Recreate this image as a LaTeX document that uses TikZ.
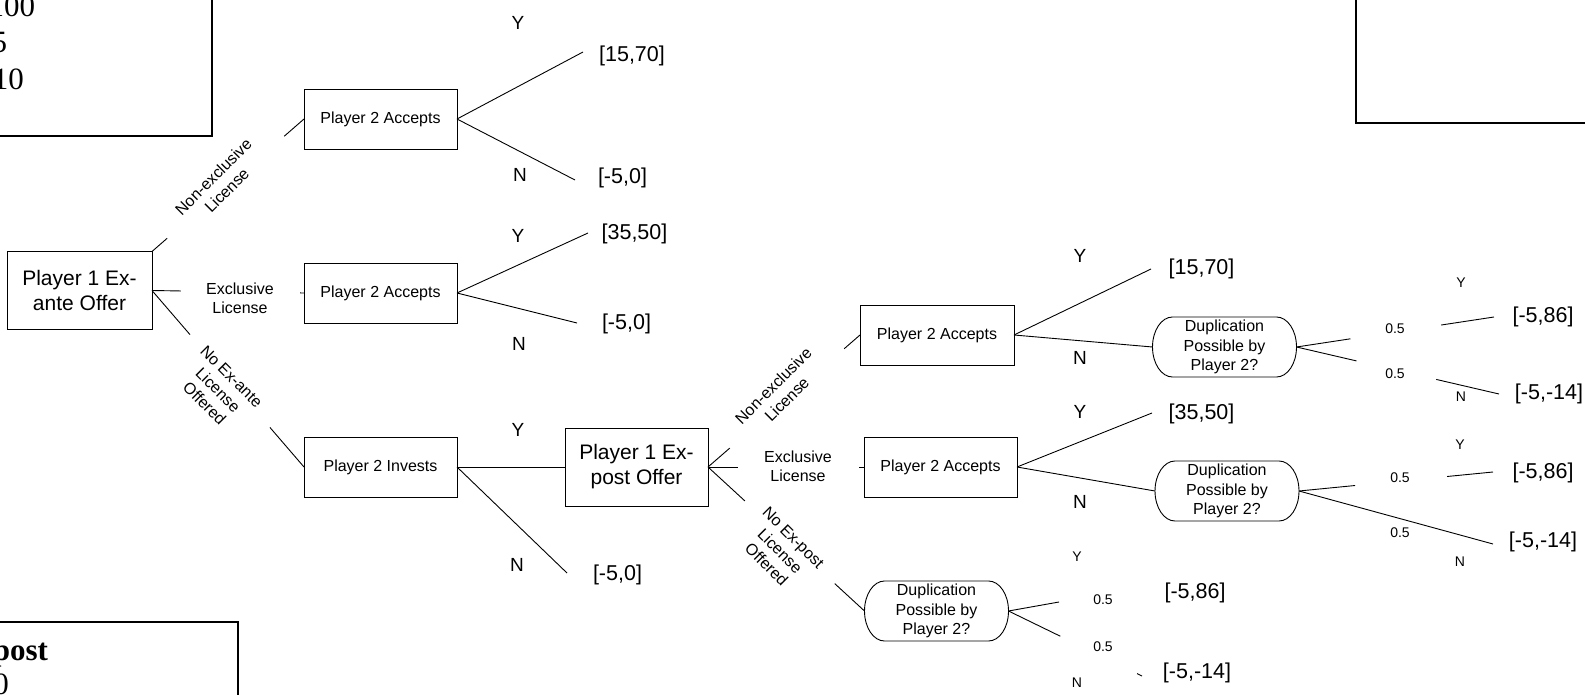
\documentclass[tikz,border=0pt]{standalone}
\usepackage{fontspec}
\setmainfont{Liberation Sans}
\newfontfamily\serifface{Liberation Serif}
\usetikzlibrary{calc}
% outline of a chance node: straight top and bottom, elliptic ends
\newcommand\dupoutline[1]{%
  \draw[line] ($(#1.north west)+(20,0)$) -- ($(#1.north east)+(-20,0)$)
    arc[start angle=90,end angle=-90,x radius=20pt,y radius=30pt]
    -- ($(#1.south west)+(20,0)$)
    arc[start angle=270,end angle=90,x radius=20pt,y radius=30pt] -- cycle;}
\begin{document}
\begin{tikzpicture}[x=1pt,y=-1pt,
  every node/.style={inner sep=0pt, outer sep=0pt},
  line/.style={line width=0.9pt},
  box/.style={draw, line width=0.9pt, minimum width=153pt, minimum height=60pt, font=\fontsize{16}{19.5}\selectfont},
  bigbox/.style={draw, line width=0.9pt, minimum width=145pt, minimum height=78pt, align=center, font=\fontsize{21}{25}\selectfont},
  dupbox/.style={minimum width=144pt, minimum height=60pt, align=center, font=\fontsize{16}{19.5}\selectfont},
  lbl/.style={align=center, font=\fontsize{16}{19}\selectfont},
  yn/.style={font=\fontsize{19}{22}\selectfont},
  sm/.style={font=\fontsize{14}{16}\selectfont},
  pay/.style={font=\fontsize{21.5}{25}\selectfont},
  frame/.style={draw, line width=1.8pt},
  note/.style={font=\serifface\fontsize{31}{34}\selectfont}]

\useasboundingbox (0,0) rectangle (1585,695);
\fill[white] (0,0) rectangle (1585,695);
\clip (0,0) rectangle (1585,695);

% parameter frames at the page corners
\draw[frame] (-10,-10) rectangle (212,136);
\node[note, anchor=base east] (nA) at (35,17) {100};
\node[note, anchor=base east] (nB) at (7,53) {5};
\node[note, anchor=base east] (nC) at (24,90) {10};
\draw[frame] (1356,-10) rectangle (1600,123);
\draw[frame] (-10,622) rectangle (238,710);
\node[note, anchor=base east, font=\serifface\bfseries\fontsize{31}{34}\selectfont] (nD) at (48,660) {post};
\node[note, anchor=base east] (nE) at (9,694) {0};

% decision nodes
\node[bigbox] (exante) at (79.5,290.5) {Player 1 Ex-\\ante Offer};
\node[box] (acc1) at (380.5,119) {Player 2 Accepts};
\node[box] (acc2) at (380.5,293) {Player 2 Accepts};
\node[box] (inv) at (380.5,467) {Player 2 Invests};
\node[bigbox, minimum width=143pt] (expost) at (636.5,467) {Player 1 Ex-\\post Offer};
\node[box, minimum width=154pt] (acc3) at (937,335) {Player 2 Accepts};
\node[box] (acc4) at (940.5,467) {Player 2 Accepts};

% chance nodes
\node[dupbox] (dup1) at (1224.5,347) {Duplication\\Possible by\\Player 2?};
\node[dupbox] (dup2) at (1227,491) {Duplication\\Possible by\\Player 2?};
\node[dupbox] (dup3) at (936.5,611) {Duplication\\Possible by\\Player 2?};
\dupoutline{dup1}
\dupoutline{dup2}
\dupoutline{dup3}

% ex-ante offer branches (broken around their labels)
\draw[line] (exante.north east) -- ($(exante.north east)!0.1!(acc1.west)$);
\draw[line] ($(exante.north east)!0.87!(acc1.west)$) -- (acc1.west);
\draw[line] (exante.east) -- ($(exante.east)!0.19!(acc2.west)$);
\draw[line] ($(exante.east)!0.974!(acc2.west)$) -- (acc2.west);
\draw[line] (exante.east) -- ($(exante.east)!0.25!(inv.west)$);
\draw[line] ($(exante.east)!0.776!(inv.west)$) -- (inv.west);
\node[lbl, rotate=45] (l1) at (220,183.5) {Non-exclusive\\License};
\node[lbl] (l2) at (240,298) {Exclusive\\License};
\node[lbl, rotate=-45] (l3) at (218,390) {No Ex-ante\\License\\Offered};

% player 2 responses, first stage
\coordinate (a1y) at (583,52);
\coordinate (a1n) at (575,180);
\coordinate (a2y) at (588,233);
\coordinate (a2n) at (577,323);
\coordinate (ivn) at (567,573);
\draw[line] (acc1.east) -- (a1y);
\draw[line] (acc1.east) -- (a1n);
\draw[line] (acc2.east) -- (a2y);
\draw[line] (acc2.east) -- (a2n);
\draw[line] (inv.east) -- (expost.west);
\draw[line] (inv.east) -- (ivn);
\node[yn] (y1) at (518,23) {Y};
\node[yn] (n1) at (520,175) {N};
\node[yn] (y2) at (518,236) {Y};
\node[yn] (n2) at (519,344) {N};
\node[yn] (y3) at (518,430) {Y};
\node[yn] (n3) at (517,565) {N};
\node[pay] (p1) at (632,56) {[15,70]};
\node[pay] (p2) at (622.5,178) {[-5,0]};
\node[pay] (p3) at (634.5,233.5) {[35,50]};
\node[pay] (p4) at (626.5,324) {[-5,0]};
\node[pay] (p5) at (617.5,575) {[-5,0]};

% ex-post offer branches
\draw[line] (expost.east) -- ($(expost.east)!0.143!(acc3.west)$);
\draw[line] ($(expost.east)!0.896!(acc3.west)$) -- (acc3.west);
\draw[line] (expost.east) -- ($(expost.east)!0.19!(acc4.west)$);
\draw[line] ($(expost.east)!0.968!(acc4.west)$) -- (acc4.west);
\draw[line] (expost.east) -- ($(expost.east)!0.236!(dup3.west)$);
\draw[line] ($(expost.east)!0.81!(dup3.west)$) -- (dup3.west);
\node[lbl, rotate=45] (l4) at (780,392.5) {Non-exclusive\\License};
\node[lbl] (l5) at (798,466.5) {Exclusive\\License};
\node[lbl, rotate=-45] (l6) at (780,551) {No Ex-post\\License\\Offered};

% player 2 responses, second stage
\coordinate (a3y) at (1151,269);
\coordinate (a4y) at (1152,413);
\draw[line] (acc3.east) -- (a3y);
\draw[line] (acc3.east) -- (dup1.west);
\draw[line] (acc4.east) -- (a4y);
\draw[line] (acc4.east) -- (dup2.west);
\node[yn] (y4) at (1080,256) {Y};
\node[yn] (n4) at (1080,358) {N};
\node[yn] (y5) at (1080,412) {Y};
\node[yn] (n5) at (1080,502) {N};
\node[pay] (p6) at (1201.5,269) {[15,70]};
\node[pay] (p7) at (1201.5,414) {[35,50]};

% chance moves
\coordinate (d1y) at (1494,317);
\coordinate (d1n) at (1499,394);
\coordinate (d2y) at (1493,472);
\coordinate (d2n) at (1493,544);
\coordinate (d3y) at (1059,602);
\coordinate (d3n) at (1142,676);
\draw[line] (dup1.east) -- ($(dup1.east)!0.273!(d1y)$);
\draw[line] ($(dup1.east)!0.732!(d1y)$) -- (d1y);
\draw[line] (dup1.east) -- ($(dup1.east)!0.296!(d1n)$);
\draw[line] ($(dup1.east)!0.69!(d1n)$) -- (d1n);
\draw[line] (dup2.east) -- ($(dup2.east)!0.289!(d2y)$);
\draw[line] ($(dup2.east)!0.763!(d2y)$) -- (d2y);
\draw[line] (dup2.east) -- (d2n);
\draw[line] (dup3.east) -- (d3y);
\draw[line] (dup3.east) -- ($(dup3.east)!0.388!(d3n)$);
\draw[line] ($(dup3.east)!0.963!(d3n)$) -- (d3n);

\node[sm] (q1) at (1395,329) {0.5};
\node[sm] (q2) at (1395,374) {0.5};
\node[sm] (q3) at (1400,478) {0.5};
\node[sm] (q4) at (1400,533) {0.5};
\node[sm] (q5) at (1103,600) {0.5};
\node[sm] (q6) at (1103,647) {0.5};
\node[sm] (y6) at (1461,283) {Y};
\node[sm] (n6) at (1461,397) {N};
\node[sm] (y7) at (1460,445) {Y};
\node[sm] (n7) at (1460,562) {N};
\node[sm] (y8) at (1077,557) {Y};
\node[sm] (n8) at (1077,683) {N};
\node[pay] (p8) at (1543,317) {[-5,86]};
\node[pay] (p9) at (1549,394) {[-5,-14]};
\node[pay] (p10) at (1543,473) {[-5,86]};
\node[pay] (p11) at (1543,542) {[-5,-14]};
\node[pay] (p12) at (1195,593) {[-5,86]};
\node[pay] (p13) at (1197,673) {[-5,-14]};
\end{tikzpicture}
\end{document}
